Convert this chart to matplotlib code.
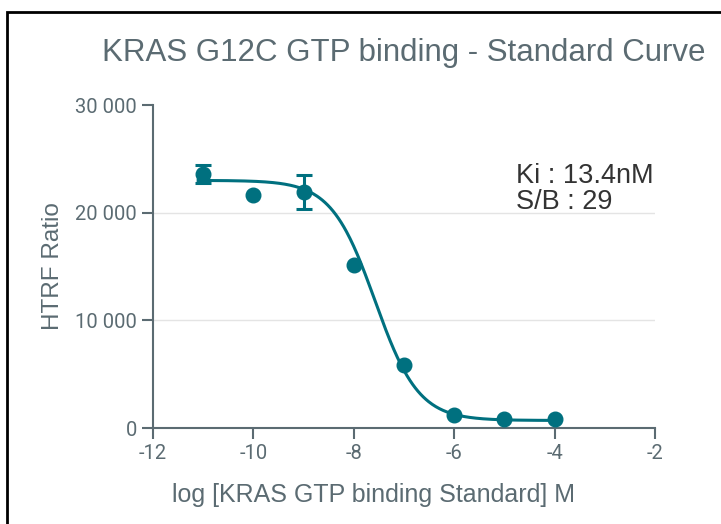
import numpy as np
import matplotlib
matplotlib.use("Agg")
import matplotlib.pyplot as plt
from matplotlib.patches import Rectangle
from matplotlib.ticker import FuncFormatter

plt.rcParams["axes.unicode_minus"] = False

# Data
log_conc = [-11, -10, -9, -8, -7, -6, -5, -4]
htrf = [23600, 21600, 21900, 15150, 5850, 1200, 800, 800]
htrf_err = [800, 0, 1600, 0, 0, 0, 0, 0]

# Fitted 4PL parameters
fit_top = 23000
fit_bottom = 700
fit_logec50 = -7.58
fit_hill = 1.0

x_ticks = [-12, -10, -8, -6, -4, -2]
y_ticks = [0, 10000, 20000, 30000]

teal = "#00707F"
gray = "#5B6B72"

fig = plt.figure(figsize=(7.21, 5.24), dpi=100)
ax = fig.add_axes([0.2122, 0.1832, 0.6963, 0.6164])

xs = np.linspace(min(log_conc) - 0.1, max(log_conc), 400)
ys = fit_bottom + (fit_top - fit_bottom) / (1 + 10 ** ((xs - fit_logec50) * fit_hill))
ax.plot(xs, ys, color=teal, lw=2.2, zorder=3)

yerr = [e if e > 0 else np.nan for e in htrf_err]
ax.errorbar(log_conc, htrf, yerr=yerr, fmt="o", color=teal, ms=10.5,
            elinewidth=2.2, capsize=6, capthick=2.2, zorder=4)

ax.set_xlim(-12, -2)
ax.set_ylim(0, 30000)
ax.set_xticks(x_ticks)
ax.set_yticks(y_ticks)
ax.yaxis.set_major_formatter(FuncFormatter(lambda v, p: f"{int(v):,}".replace(",", " ")))

for s in ["top", "right"]:
    ax.spines[s].set_visible(False)
for s in ["left", "bottom"]:
    ax.spines[s].set_color(gray)
    ax.spines[s].set_linewidth(1.5)

ax.yaxis.grid(True, color="#E4E4E4", lw=1)
ax.set_axisbelow(True)
gl = ax.yaxis.get_gridlines()
gl[0].set_visible(False)
gl[-1].set_visible(False)

ax.tick_params(axis="both", colors=gray, length=8, width=1.5, labelsize=14.5)
for lab in ax.get_xticklabels() + ax.get_yticklabels():
    lab.set_fontfamily(["Roboto", "DejaVu Sans"])
    lab.set_color(gray)

lab_font = ["Liberation Sans", "DejaVu Sans"]
fig.text(373 / 721, 1 - 495 / 524, "log [KRAS GTP binding Standard] M",
         fontsize=18, color=gray, family=lab_font, ha="center", va="center")
ax.set_ylabel("HTRF Ratio", fontsize=17.5, color=gray, family=lab_font, labelpad=8)

fig.text(404 / 721, 1 - 53 / 524, "KRAS G12C GTP binding - Standard Curve", ha="center",
         va="center", fontsize=22.5, color=gray, family=lab_font)

ax.text(-4.77, 22200, "Ki : 13.4nM\nS/B : 29", fontsize=19.5, color="#333333",
        family=lab_font, va="center", ha="left", linespacing=1.0)

fig.add_artist(Rectangle((7 / 721, -0.1), 1.2, 1 - 12 / 524 + 0.1,
                         transform=fig.transFigure, fill=False,
                         edgecolor="black", lw=2))

fig.savefig("out.png", dpi=100)
